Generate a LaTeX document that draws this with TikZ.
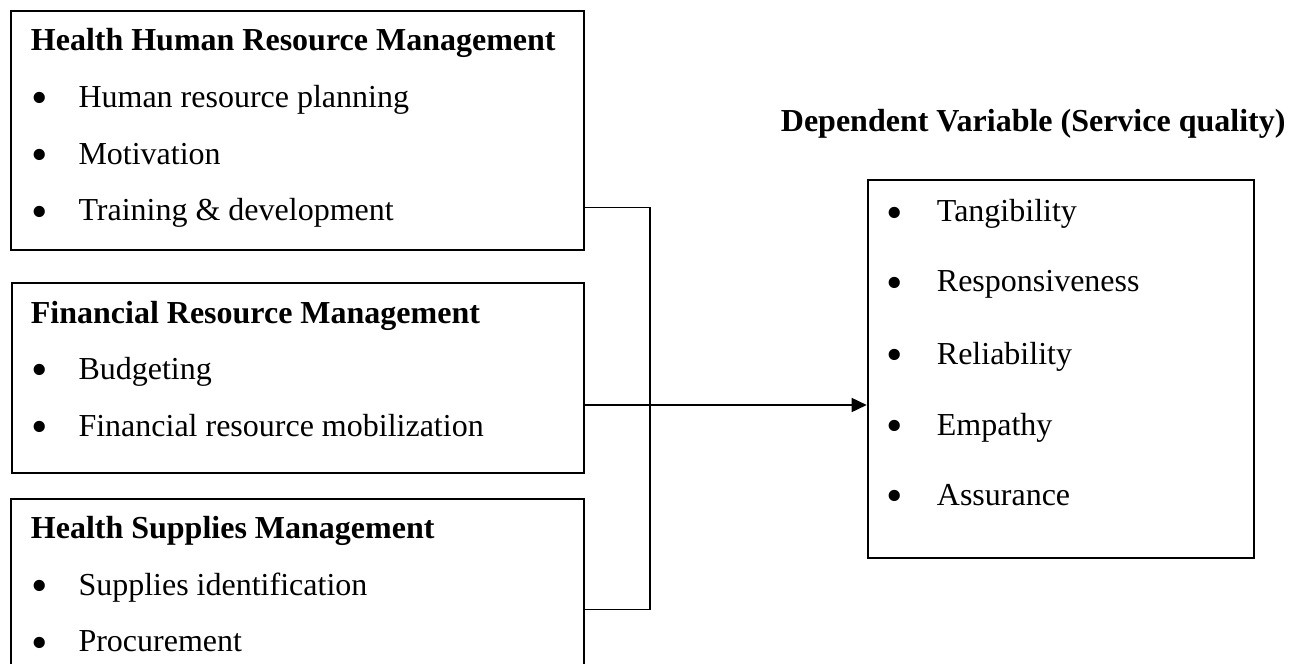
\documentclass[tikz,border=0pt]{standalone}
\usepackage{fontspec}
\setmainfont{Liberation Serif}
\usetikzlibrary{arrows.meta}
\begin{document}
\begin{tikzpicture}[x=1pt,y=-1pt,
  box/.style={draw=black, line width=2pt, rectangle, inner sep=0pt, anchor=north west},
  head/.style={anchor=base west, inner sep=0pt, font=\fontsize{32}{38}\selectfont\bfseries},
  txt/.style={anchor=base west, inner sep=0pt, font=\fontsize{32}{38}\selectfont},
  dot/.style={anchor=base, inner sep=0pt, yshift=-6.3pt, font=\fontsize{47}{50}\selectfont},
  link/.style={draw=black, line width=1.6pt},
]
\useasboundingbox (0,0) rectangle (1299,664);
\clip (0,0) rectangle (1299,664);

% independent variable boxes
\node[box, minimum width=573pt, minimum height=239pt] (b1) at (10,10) {};
\node[box, minimum width=572.5pt, minimum height=190pt] (b2) at (10.5,281.7) {};
\node[box, minimum width=573pt, minimum height=230pt] (b3) at (10,498.3) {};

% dependent variable box
\node[box, minimum width=386.3pt, minimum height=377.7pt] (dv) at (866.7,179) {};

% Health Human Resource Management
\node[head] (h1) at (30.7,50.7) {Health Human Resource Management};
\node[dot] (d11) at (39.3,107.3) {•};
\node[txt] (t11) at (78.3,107.3) {Human resource planning};
\node[dot] (d12) at (39.3,164) {•};
\node[txt] (t12) at (78.3,164) {Motivation};
\node[dot] (d13) at (39.3,220.7) {•};
\node[txt] (t13) at (78.3,220.7) {Training \& development};

% Financial Resource Management
\node[head] (h2) at (30.7,323.3) {Financial Resource Management};
\node[dot] (d21) at (39.3,379) {•};
\node[txt] (t21) at (78.3,379) {Budgeting};
\node[dot] (d22) at (39.3,436) {•};
\node[txt] (t22) at (78.3,436) {Financial resource mobilization};

% Health Supplies Management
\node[head] (h3) at (30.7,538.3) {Health Supplies Management};
\node[dot] (d31) at (39.3,595) {•};
\node[txt] (t31) at (78.3,595) {Supplies identification};
\node[dot] (d32) at (39.3,651.7) {•};
\node[txt] (t32) at (78.3,651.7) {Procurement};

% Dependent variable
\node[head] (hd) at (780.7,131.7) {Dependent Variable (Service quality)};
\node[dot] (e1) at (894.3,221.7) {•};
\node[txt] (s1) at (936.7,221.7) {Tangibility};
\node[dot] (e2) at (894.3,291.7) {•};
\node[txt] (s2) at (936.7,291.7) {Responsiveness};
\node[dot] (e3) at (894.3,364) {•};
\node[txt] (s3) at (936.7,364) {Reliability};
\node[dot] (e4) at (894.3,435) {•};
\node[txt] (s4) at (936.7,435) {Empathy};
\node[dot] (e5) at (894.3,505) {•};
\node[txt] (s5) at (936.7,505) {Assurance};

% connectors
\coordinate (j1) at (650,207.3);
\coordinate (j3) at (650,609.3);
\coordinate (ja) at (650,405);
\draw[link] (b1.east |- j1) -- (j1) -- (j3) -- (b3.east |- j3);
\draw[link, -{Triangle[length=15pt, width=14pt]}] (b2.east |- ja) -- (dv.west |- ja);
\end{tikzpicture}
\end{document}
